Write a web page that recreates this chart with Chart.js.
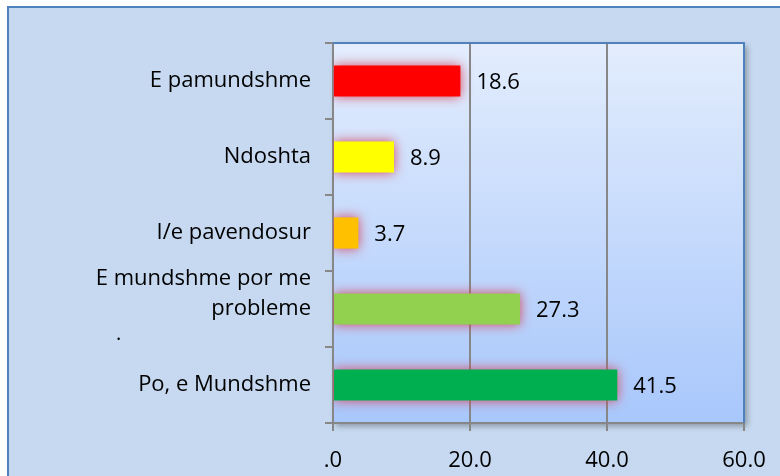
<!DOCTYPE html>
<html>
<head>
<meta charset="utf-8">
<script src="https://cdn.jsdelivr.net/npm/chart.js@4/dist/chart.umd.min.js"></script>
<style>
  html, body { margin: 0; padding: 0; background: #ffffff; }
  #wrap { width: 780px; height: 476px; position: relative; }
</style>
</head>
<body>
<div id="wrap"><canvas id="c" width="780" height="476"></canvas></div>
<script>
const categories = [
  'E pamundshme',
  'Ndoshta',
  'I/e pavendosur',
  ['E mundshme por me', 'probleme', ''],
  'Po, e Mundshme'
];
const values = [18.6, 8.9, 3.7, 27.3, 41.5];
const barColors = ['#ff0000', '#ffff00', '#ffc000', '#92d050', '#00b050'];
const xTickValues = [0, 20, 40, 60];
const xTickLabels = ['.0', '20.0', '40.0', '60.0'];
const strayNote = '.';

const FONT = '"Open Sans", "DejaVu Sans", sans-serif';

const bgPlugin = {
  id: 'bgPlugin',
  beforeDraw(chart) {
    const ctx = chart.ctx;
    const a = chart.chartArea;
    ctx.save();
    ctx.fillStyle = '#ffffff';
    ctx.fillRect(0, 0, chart.width, chart.height);
    ctx.fillStyle = '#c6d9f0';
    ctx.fillRect(8, 7, chart.width, chart.height);
    ctx.strokeStyle = '#4f81bd';
    ctx.lineWidth = 2;
    ctx.beginPath();
    ctx.moveTo(8, chart.height + 5);
    ctx.lineTo(8, 7);
    ctx.lineTo(chart.width + 5, 7);
    ctx.stroke();
    ctx.shadowColor = 'rgba(60,60,60,0.45)';
    ctx.shadowBlur = 6;
    ctx.shadowOffsetX = 3;
    ctx.shadowOffsetY = 3;
    const g = ctx.createLinearGradient(0, a.top, 0, a.bottom);
    g.addColorStop(0, '#e3edfd');
    g.addColorStop(1, '#a8c7fb');
    ctx.fillStyle = g;
    ctx.fillRect(a.left, a.top, a.right - a.left, a.bottom - a.top);
    ctx.restore();
  },
  beforeDatasetsDraw(chart) {
    const ctx = chart.ctx;
    const a = chart.chartArea;
    ctx.save();
    ctx.strokeStyle = '#4f81bd';
    ctx.lineWidth = 2;
    ctx.beginPath();
    ctx.moveTo(a.left, a.top);
    ctx.lineTo(a.right, a.top);
    ctx.lineTo(a.right, a.bottom);
    ctx.stroke();
    ctx.restore();
  },
  beforeDatasetDraw(chart) {
    const ctx = chart.ctx;
    ctx.save();
    ctx.shadowColor = 'rgba(215,70,95,1)';
    ctx.shadowBlur = 12;
  },
  afterDatasetDraw(chart) {
    chart.ctx.restore();
  },
  afterDraw(chart) {
    const ctx = chart.ctx;
    const meta = chart.getDatasetMeta(0);
    ctx.save();
    ctx.font = '22px ' + FONT;
    ctx.fillStyle = '#000000';
    ctx.textBaseline = 'middle';
    ctx.textAlign = 'left';
    meta.data.forEach((bar, i) => {
      ctx.fillText(values[i].toFixed(1), bar.x + 16, bar.y + 2);
    });
    // stray dot on the third line of the wrapped category label
    const yScale = chart.scales.y;
    const yy = yScale.getPixelForValue(3) + 30;
    ctx.font = '20px ' + FONT;
    ctx.fillText(strayNote, 116, yy - 5);
    ctx.restore();
  }
};

new Chart(document.getElementById('c'), {
  type: 'bar',
  data: {
    labels: categories,
    datasets: [{
      data: values,
      backgroundColor: barColors,
      borderWidth: 0,
      barPercentage: 0.41,
      categoryPercentage: 1.0
    }]
  },
  plugins: [bgPlugin],
  options: {
    indexAxis: 'y',
    responsive: false,
    animation: false,
    devicePixelRatio: 1,
    layout: { padding: { left: 8, top: 43, right: 36, bottom: 0 } },
    plugins: { legend: { display: false }, tooltip: { enabled: false }, title: { display: false } },
    scales: {
      x: {
        min: 0, max: 60,
        afterBuildTicks(scale) { scale.ticks = xTickValues.map(v => ({ value: v })); },
        afterFit(scale) { scale.height = 53; scale.paddingLeft = 0; scale.paddingRight = 0; },
        border: { display: true, color: '#878787', width: 2 },
        grid: {
          drawOnChartArea: true,
          drawTicks: true,
          tickLength: 8,
          lineWidth: 2,
          color: (c) => (c.tick && c.tick.value === 60) ? 'rgba(0,0,0,0)' : '#878787',
          tickColor: '#878787'
        },
        ticks: {
          padding: 17,
          color: '#000000',
          autoSkip: false,
          font: { family: FONT, size: 22 },
          maxRotation: 0,
          callback: (v) => { const i = xTickValues.indexOf(v); return i >= 0 ? xTickLabels[i] : ''; }
        }
      },
      y: {
        afterFit(scale) { scale.width = 325; scale.paddingTop = 0; scale.paddingBottom = 0; },
        border: { display: true, color: '#878787', width: 2 },
        grid: {
          offset: true,
          drawOnChartArea: false,
          drawTicks: true,
          tickLength: 8,
          lineWidth: 2,
          color: '#878787',
          tickColor: '#878787'
        },
        ticks: {
          padding: 14,
          color: '#000000',
          autoSkip: false,
          font: { family: FONT, size: 22, lineHeight: 1.36 }
        }
      }
    }
  }
});
</script>
</body>
</html>
